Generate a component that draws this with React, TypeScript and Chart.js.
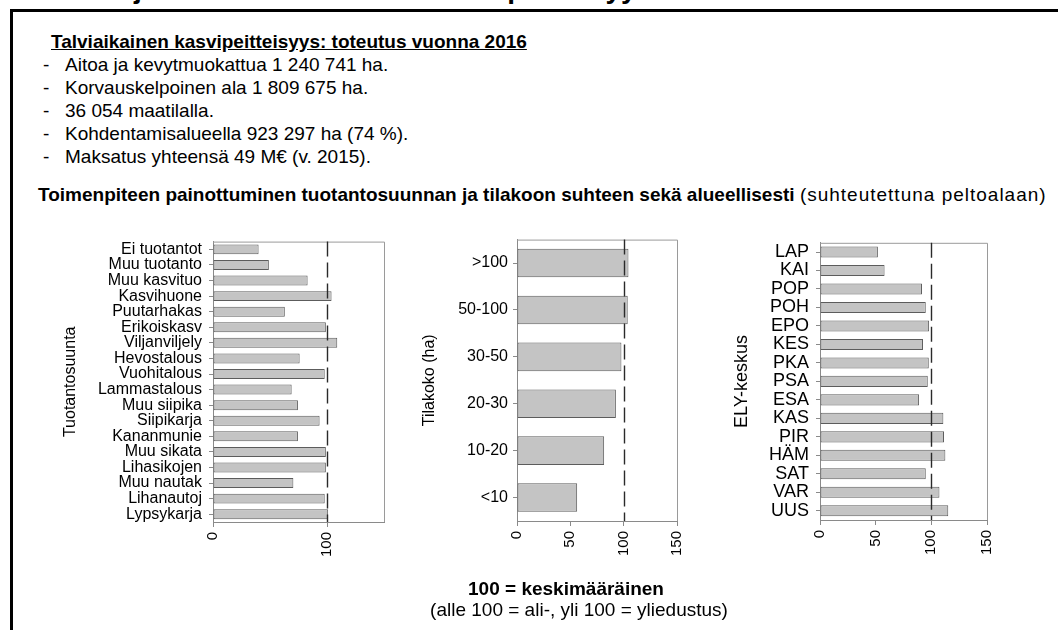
import React, { useEffect, useRef } from "react";
import { Chart, registerables } from "chart.js";

Chart.register(...registerables);

const FONT = "'Liberation Sans', Arial, sans-serif";

// ---- Data ----
const PROD_LABELS = [
  "Ei tuotantot", "Muu tuotanto", "Muu kasvituo", "Kasvihuone", "Puutarhakas",
  "Erikoiskasv", "Viljanviljely", "Hevostalous", "Vuohitalous", "Lammastalous",
  "Muu siipika", "Siipikarja", "Kananmunie", "Muu sikata", "Lihasikojen",
  "Muu nautak", "Lihanautoj", "Lypsykarja",
];
const PROD_VALUES = [40, 49, 83, 104, 63, 99, 109, 76, 98, 69, 74.5, 93.5, 74.5, 99, 99, 70.5, 98, 101];

const SIZE_LABELS = [">100", "50-100", "30-50", "20-30", "10-20", "<10"];
const SIZE_VALUES = [104.5, 103.8, 97.9, 92.7, 81.7, 56.4];

const ELY_LABELS = ["LAP", "KAI", "POP", "POH", "EPO", "KES", "PKA", "PSA", "ESA", "KAS", "PIR", "HÄM", "SAT", "VAR", "UUS"];
const ELY_VALUES = [52, 58, 91.6, 95, 98, 92.5, 97.7, 96.8, 89, 110.8, 111.4, 112.6, 95, 107.3, 115.2];

const AVERAGE = 100;
const X_MAX = 150;
const TICKS_PROD = [0, 100];
const TICKS_FULL = [0, 50, 100, 150];

const BULLETS = [
  "Aitoa ja kevytmuokattua 1 240 741 ha.",
  "Korvauskelpoinen ala 1 809 675 ha.",
  "36 054 maatilalla.",
  "Kohdentamisalueella 923 297 ha (74 %).",
  "Maksatus yhteensä 49 M€ (v. 2015).",
];

const refLinePlugin = {
  id: "refLineFrame",
  afterDatasetsDraw(chart: any) {
    const { ctx, chartArea, scales } = chart;
    const { left, top, right, bottom } = chartArea;
    ctx.save();
    ctx.strokeStyle = "#9a9a9a";
    ctx.lineWidth = 1;
    ctx.beginPath();
    ctx.moveTo(left, top + 0.5);
    ctx.lineTo(right + 0.5, top + 0.5);
    ctx.lineTo(right + 0.5, bottom);
    ctx.stroke();
    const px = Math.round(scales.x.getPixelForValue(AVERAGE)) + 0.5;
    ctx.setLineDash([15, 6]);
    ctx.strokeStyle = "#2a2a2a";
    ctx.lineWidth = 1.4;
    ctx.beginPath();
    ctx.moveTo(px, top);
    ctx.lineTo(px, bottom);
    ctx.stroke();
    ctx.restore();
  },
};

type PanelProps = {
  labels: string[];
  values: number[];
  ticks: number[];
  title: string;
  left: number;
  top: number;
  width: number;
  height: number;
  yAxisWidth: number;
  xAxisHeight: number;
  padTop: number;
  padRight: number;
  labelSize: number;
  titleSize: number;
  titlePad: number;
  labelPad: number;
  barPct: number;
};

function Panel(p: PanelProps) {
  const ref = useRef<HTMLCanvasElement | null>(null);
  useEffect(() => {
    if (!ref.current) return;
    const chart = new Chart(ref.current, {
      type: "bar",
      data: {
        labels: p.labels,
        datasets: [
          {
            data: p.values,
            backgroundColor: "#c4c4c4",
            borderColor: "#5c5c5c",
            borderWidth: 1,
            borderSkipped: false,
            barPercentage: p.barPct,
            categoryPercentage: 1,
          },
        ],
      },
      options: {
        indexAxis: "y",
        responsive: false,
        animation: false,
        devicePixelRatio: 1,
        layout: { padding: { top: p.padTop, right: p.padRight, bottom: 0, left: 0 } },
        plugins: { legend: { display: false }, tooltip: { enabled: false } },
        scales: {
          x: {
            min: 0,
            max: X_MAX,
            afterBuildTicks: (s: any) => {
              s.ticks = p.ticks.map((v) => ({ value: v }));
            },
            afterFit: (s: any) => {
              s.height = p.xAxisHeight;
            },
            ticks: {
              minRotation: 90,
              maxRotation: 90,
              autoSkip: false,
              color: "#000",
              padding: 5,
              font: { family: FONT, size: 15 },
            },
            grid: { drawOnChartArea: false, tickLength: 5, color: "#8a8a8a" },
            border: { color: "#8a8a8a" },
          },
          y: {
            afterFit: (s: any) => {
              s.width = p.yAxisWidth;
            },
            ticks: {
              autoSkip: false,
              color: "#000",
              padding: p.labelPad,
              font: { family: FONT, size: p.labelSize },
            },
            grid: { drawOnChartArea: false, offset: false, tickLength: 4, color: "#8a8a8a" },
            border: { color: "#8a8a8a" },
            title: {
              display: true,
              text: p.title,
              color: "#000",
              font: { family: FONT, size: p.titleSize },
              padding: { top: p.titlePad, bottom: 0 },
            },
          },
        },
      },
      plugins: [refLinePlugin],
    } as any);
    return () => chart.destroy();
  }, []);
  return (
    <canvas
      ref={ref}
      width={p.width}
      height={p.height}
      style={{ position: "absolute", left: p.left, top: p.top, width: p.width, height: p.height }}
    />
  );
}

export default function App() {
  return (
    <div
      style={{
        position: "absolute",
        left: 0,
        top: 0,
        width: 1058,
        height: 630,
        overflow: "hidden",
        background: "#fff",
        fontFamily: FONT,
        color: "#000",
      }}
    >
      <div
        style={{
          position: "absolute",
          left: 95,
          top: -27,
          fontSize: 28,
          fontWeight: 700,
          lineHeight: "32px",
          whiteSpace: "nowrap",
        }}
      >
        Ohjelmakauden toteuma: kasvipeitteisyys
      </div>
      <div
        style={{
          position: "absolute",
          left: 10,
          top: 9,
          width: 1200,
          height: 800,
          borderLeft: "3px solid #000",
          borderTop: "3px solid #000",
          background: "#fff",
        }}
      />
      <div
        style={{
          position: "absolute",
          left: 51,
          top: 30,
          fontSize: 19,
          fontWeight: 700,
          lineHeight: "23px",
          textDecoration: "underline",
          whiteSpace: "nowrap",
        }}
      >
        Talviaikainen kasvipeitteisyys: toteutus vuonna 2016
      </div>
      {BULLETS.map((b, i) => (
        <div
          key={i}
          style={{
            position: "absolute",
            left: 43,
            top: 53 + i * 23,
            fontSize: 19,
            lineHeight: "23px",
            whiteSpace: "nowrap",
          }}
        >
          <span>-</span>
          <span style={{ position: "absolute", left: 22 }}>{b}</span>
        </div>
      ))}
      <div
        style={{
          position: "absolute",
          left: 38,
          top: 183,
          fontSize: 19,
          lineHeight: "23px",
          whiteSpace: "nowrap",
        }}
      >
        <b>Toimenpiteen painottuminen tuotantosuunnan ja tilakoon suhteen sekä alueellisesti</b>{" "}
        <span style={{ letterSpacing: "1px" }}>(suhteutettuna peltoalaan)</span>
      </div>

      <Panel
        labels={PROD_LABELS}
        values={PROD_VALUES}
        ticks={TICKS_PROD}
        title="Tuotantosuunta"
        left={40}
        top={225}
        width={360}
        height={355}
        yAxisWidth={173}
        xAxisHeight={58}
        padTop={8}
        padRight={16}
        labelSize={16}
        titleSize={16}
        titlePad={21}
        labelPad={7}
        barPct={0.64}
      />
      <Panel
        labels={SIZE_LABELS}
        values={SIZE_VALUES}
        ticks={TICKS_FULL}
        title="Tilakoko (ha)"
        left={410}
        top={225}
        width={290}
        height={355}
        yAxisWidth={107}
        xAxisHeight={59}
        padTop={6}
        padRight={11}
        labelSize={16}
        titleSize={16}
        titlePad={10}
        labelPad={5}
        barPct={0.61}
      />
      <Panel
        labels={ELY_LABELS}
        values={ELY_VALUES}
        ticks={TICKS_FULL}
        title="ELY-keskus"
        left={725}
        top={225}
        width={285}
        height={355}
        yAxisWidth={95}
        xAxisHeight={60}
        padTop={7}
        padRight={18}
        labelSize={18}
        titleSize={18}
        titlePad={6}
        labelPad={7}
        barPct={0.6}
      />

      <div
        style={{
          position: "absolute",
          left: 566,
          top: 577,
          transform: "translateX(-50%)",
          fontSize: 19,
          fontWeight: 700,
          lineHeight: "23px",
          whiteSpace: "nowrap",
        }}
      >
        100 = keskimääräinen
      </div>
      <div
        style={{
          position: "absolute",
          left: 579,
          top: 598,
          transform: "translateX(-50%)",
          fontSize: 19,
          lineHeight: "23px",
          whiteSpace: "nowrap",
        }}
      >
        (alle 100 = ali-, yli 100 = yliedustus)
      </div>
    </div>
  );
}
